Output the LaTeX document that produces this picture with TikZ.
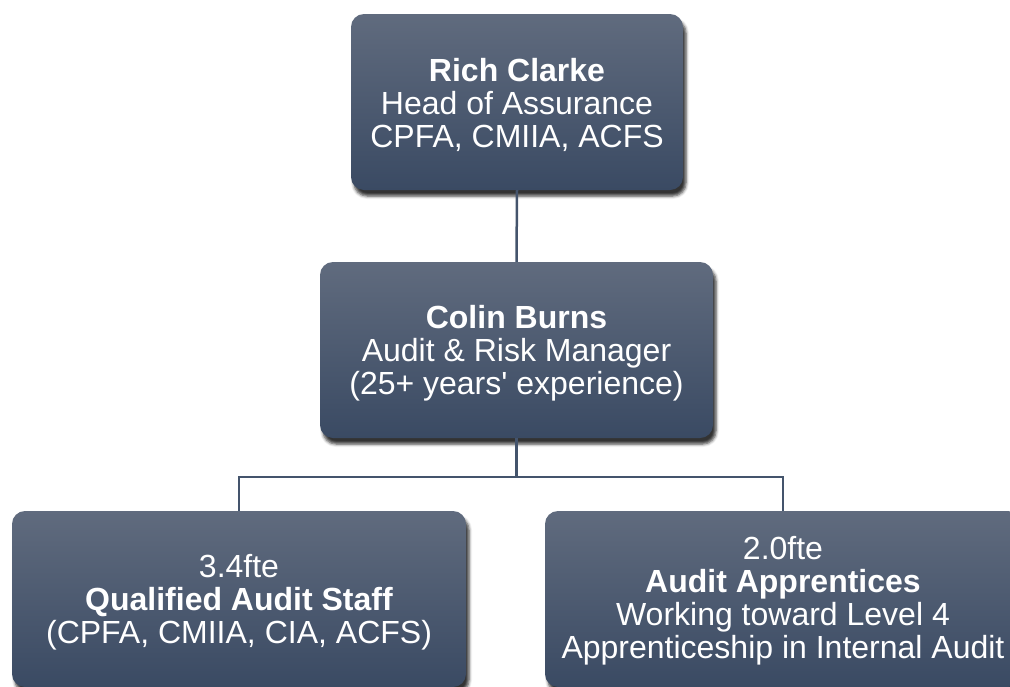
\documentclass[tikz,border=0pt]{standalone}
\usepackage{fontspec}
\setmainfont{Liberation Sans}
\usetikzlibrary{shadows.blur}
\definecolor{boxtop}{HTML}{606B7E}
\definecolor{boxbot}{HTML}{3A4A63}
\definecolor{linec}{HTML}{44546C}
\tikzset{
  orgbox/.style={rectangle, rounded corners=13pt, top color=boxtop, bottom color=boxbot,
    draw=none, minimum height=176pt, inner sep=0pt,
    blur shadow={shadow xshift=3pt, shadow yshift=-6pt, shadow blur radius=3pt, shadow opacity=80}},
  boxtext/.style={text=white, align=center, inner sep=0pt, font=\fontsize{32}{33}\selectfont},
  conn/.style={draw=linec, line width=2.5pt}
}
\begin{document}
\begin{tikzpicture}[x=1pt,y=-1pt]
\useasboundingbox (0,0) rectangle (1010,686);
\clip (0,0) rectangle (1010,686);
\node[orgbox, minimum width=332pt] (top) at (517,102) {};
\node[orgbox, minimum width=393pt] (mid) at (516.5,350) {};
\node[orgbox, minimum width=454pt] (bl) at (239,599) {};
\node[orgbox, minimum width=476pt] (br) at (783,599) {};
\node[boxtext] (topt) at ([yshift=-3pt]top.center) {\textbf{Rich Clarke}\\Head of Assurance\\CPFA, CMIIA, ACFS};
\node[boxtext] (midt) at ([yshift=-3pt]mid.center) {\textbf{Colin Burns}\\Audit \& Risk Manager\\(25+ years\textquotesingle{} experience)};
\node[boxtext] (blt) at ([yshift=-3pt]bl.center) {3.4fte\\\textbf{Qualified Audit Staff}\\(CPFA, CMIIA, CIA, ACFS)};
\node[boxtext] (brt) at ([yshift=-2pt]br.center) {2.0fte\\\textbf{Audit Apprentices}\\Working toward Level 4\\Apprenticeship in Internal Audit};
\coordinate (bus) at (516.5,477);
\draw[conn] (top.south) -- (mid.north);
\draw[conn] (mid.south) -- (bus);
\draw[conn] (bl.north) |- (bus) -| (br.north);
\end{tikzpicture}
\end{document}
